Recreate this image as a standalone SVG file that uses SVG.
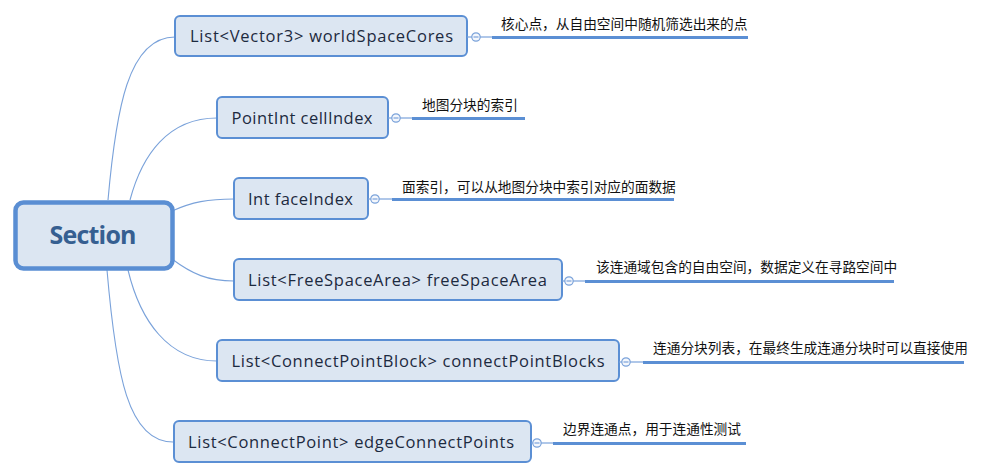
<svg xmlns="http://www.w3.org/2000/svg" width="982" height="475" viewBox="0 0 982 475">
<style>
.box{fill:#dce6f2;stroke:#5b8fd4;stroke-width:2}
.nt{font-family:"Open Sans","Liberation Sans",Arial,sans-serif;font-size:16.5px;fill:#1c2a40;text-anchor:middle}
.lt{font-family:"Noto Sans CJK SC","Noto Sans",sans-serif;font-size:13.7px;fill:#111}
.con{fill:none;stroke:#7aa2da;stroke-width:1.1}
.thin{stroke:#7aa2da;stroke-width:1.2}
.thick{stroke:#5b8fd4;stroke-width:3}
.tog{fill:#f4f7fc;stroke:#7aa2da;stroke-width:1.2}
.minus{stroke:#7aa2da;stroke-width:1.2}
</style>
<rect width="982" height="475" fill="#ffffff"/>
<g id="connectors">
<path class="con" d="M108,200 C116,110 128,37 175,37"/>
<path class="con" d="M130,200 C142,155 168,118 217,118"/>
<path class="con" d="M172,211 C192,202 208,199 234,199"/>
<path class="con" d="M172,259 C192,274 208,281 234,281"/>
<path class="con" d="M128,270 C140,320 168,361 217,361"/>
<path class="con" d="M107,270 C116,375 128,442 173,442"/>
</g>
<g id="root">
<rect x="15.5" y="202.5" width="157" height="66" rx="8" fill="#dce6f2" stroke="#5a8ed3" stroke-width="4.5"/>
<text x="93" y="244" font-family="Open Sans,Liberation Sans,Arial,sans-serif" font-size="25px" font-weight="bold" fill="#365f91" text-anchor="middle" textLength="87">Section</text>
</g>
<g id="node1">
<rect class="box" x="175" y="16" width="292" height="40" rx="5"/>
<text class="nt" x="321.5" y="42" textLength="263">List&lt;Vector3&gt; worldSpaceCores</text>
<line class="thin" x1="467" y1="37" x2="472" y2="37"/>
<line class="thin" x1="480" y1="37" x2="492" y2="37"/>
<circle class="tog" cx="476" cy="37" r="4.2"/>
<line class="minus" x1="473.5" y1="37" x2="478.5" y2="37"/>
<line class="thick" x1="492" y1="37.5" x2="748" y2="37.5"/>
<text class="lt" x="501" y="29">核心点，从自由空间中随机筛选出来的点</text>
</g>
<g id="node2">
<rect class="box" x="217" y="97" width="171" height="41" rx="5"/>
<text class="nt" x="302" y="123.5" textLength="141">PointInt cellIndex</text>
<line class="thin" x1="388" y1="118" x2="392" y2="118"/>
<line class="thin" x1="400" y1="118" x2="412" y2="118"/>
<circle class="tog" cx="396" cy="118" r="4.2"/>
<line class="minus" x1="393.5" y1="118" x2="398.5" y2="118"/>
<line class="thick" x1="412" y1="118.5" x2="525" y2="118.5"/>
<text class="lt" x="422" y="110">地图分块的索引</text>
</g>
<g id="node3">
<rect class="box" x="234" y="178" width="134" height="41" rx="5"/>
<text class="nt" x="300.5" y="204.5" textLength="105">Int faceIndex</text>
<line class="thin" x1="368" y1="199" x2="371" y2="199"/>
<line class="thin" x1="379" y1="199" x2="392" y2="199"/>
<circle class="tog" cx="375" cy="199" r="4.2"/>
<line class="minus" x1="372.5" y1="199" x2="377.5" y2="199"/>
<line class="thick" x1="392" y1="199.5" x2="674" y2="199.5"/>
<text class="lt" x="402" y="191.5">面索引，可以从地图分块中索引对应的面数据</text>
</g>
<g id="node4">
<rect class="box" x="234" y="259" width="328" height="41" rx="5"/>
<text class="nt" x="397.5" y="285.5" textLength="299">List&lt;FreeSpaceArea&gt; freeSpaceArea</text>
<line class="thin" x1="562" y1="281" x2="565" y2="281"/>
<line class="thin" x1="573" y1="281" x2="585" y2="281"/>
<circle class="tog" cx="569" cy="281" r="4.2"/>
<line class="minus" x1="566.5" y1="281" x2="571.5" y2="281"/>
<line class="thick" x1="585" y1="281.5" x2="894" y2="281.5"/>
<text class="lt" x="596" y="272">该连通域包含的自由空间，数据定义在寻路空间中</text>
</g>
<g id="node5">
<rect class="box" x="217" y="340" width="402" height="41" rx="5"/>
<text class="nt" x="418" y="366.5" textLength="373">List&lt;ConnectPointBlock&gt; connectPointBlocks</text>
<line class="thin" x1="619" y1="362" x2="622" y2="362"/>
<line class="thin" x1="630" y1="362" x2="643" y2="362"/>
<circle class="tog" cx="626" cy="362" r="4.2"/>
<line class="minus" x1="623.5" y1="362" x2="628.5" y2="362"/>
<line class="thick" x1="643" y1="362.5" x2="964" y2="362.5"/>
<text class="lt" x="653" y="353">连通分块列表，在最终生成连通分块时可以直接使用</text>
</g>
<g id="node6">
<rect class="box" x="174" y="421" width="357" height="41" rx="5"/>
<text class="nt" x="351" y="447.5" textLength="326">List&lt;ConnectPoint&gt; edgeConnectPoints</text>
<line class="thin" x1="531" y1="443" x2="533" y2="443"/>
<line class="thin" x1="541" y1="443" x2="553" y2="443"/>
<circle class="tog" cx="537" cy="443" r="4.2"/>
<line class="minus" x1="534.5" y1="443" x2="539.5" y2="443"/>
<line class="thick" x1="553" y1="443.5" x2="746" y2="443.5"/>
<text class="lt" x="563" y="434">边界连通点，用于连通性测试</text>
</g>
</svg>
